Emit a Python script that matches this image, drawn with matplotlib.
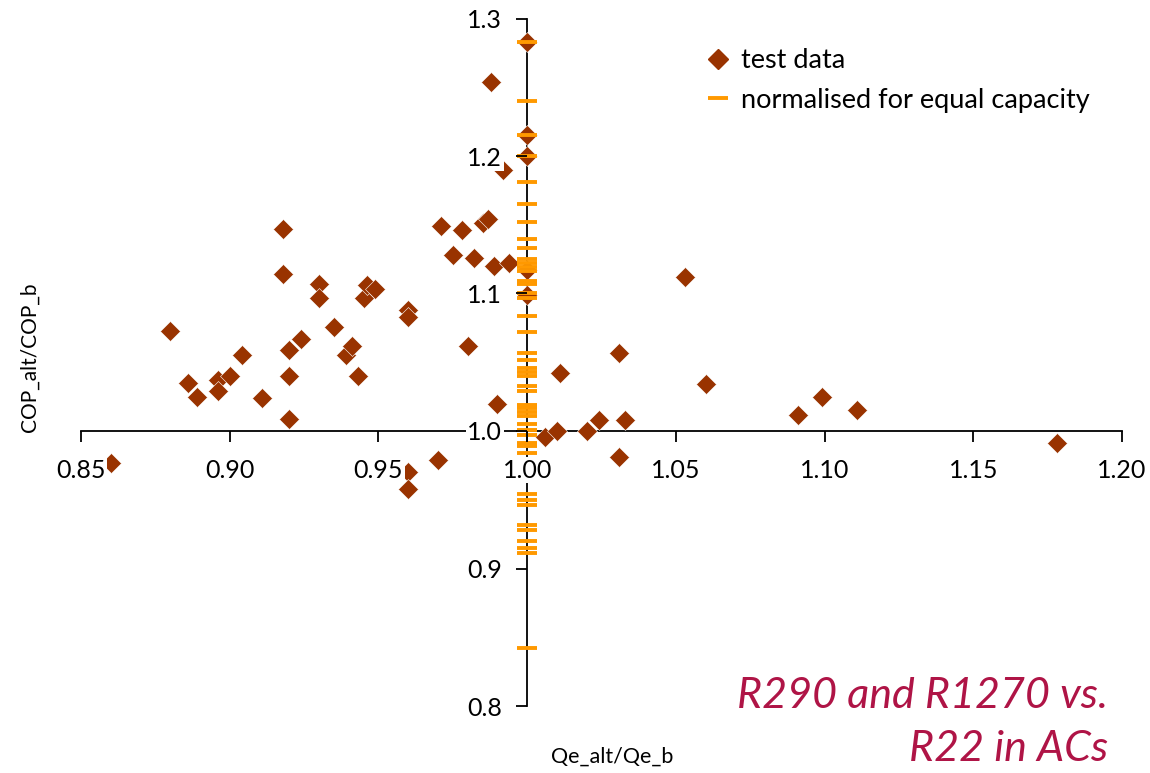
import matplotlib
matplotlib.use("Agg")
import matplotlib.pyplot as plt
from matplotlib.lines import Line2D

plt.rcParams['font.family'] = ['Lato', 'DejaVu Sans']

# test data (Qe_alt/Qe_b, COP_alt/COP_b)
qe_ratio = [0.860, 0.880, 0.886, 0.889, 0.896, 0.896, 0.900, 0.904, 0.911, 0.918,
            0.918, 0.920, 0.920, 0.920, 0.924, 0.930, 0.930, 0.935, 0.939, 0.941,
            0.943, 0.945, 0.946, 0.949, 0.960, 0.960, 0.960, 0.960, 0.970, 0.971,
            0.975, 0.978, 0.980, 0.982, 0.985, 0.987, 0.988, 0.989, 0.990, 0.992,
            0.994, 1.000, 1.000, 1.000, 1.000, 1.000, 1.006, 1.010, 1.011, 1.020,
            1.024, 1.031, 1.031, 1.033, 1.053, 1.060, 1.091, 1.099, 1.111, 1.178]
cop_ratio = [0.977, 1.073, 1.035, 1.025, 1.037, 1.029, 1.040, 1.055, 1.024, 1.114,
             1.147, 1.059, 1.040, 1.009, 1.067, 1.107, 1.097, 1.076, 1.055, 1.062,
             1.040, 1.097, 1.106, 1.103, 1.088, 1.083, 0.970, 0.958, 0.979, 1.149,
             1.128, 1.146, 1.062, 1.126, 1.151, 1.154, 1.254, 1.120, 1.020, 1.190,
             1.122, 1.283, 1.215, 1.200, 1.117, 1.099, 0.996, 1.000, 1.042, 1.000,
             1.008, 0.981, 1.057, 1.008, 1.112, 1.034, 1.012, 1.025, 1.015, 0.991]

# normalised for equal capacity (all at Qe ratio 1.0)
cop_norm = [1.283, 1.240, 1.215, 1.200, 1.181, 1.165, 1.152, 1.140, 1.133, 1.125,
            1.122, 1.119, 1.116, 1.109, 1.107, 1.100, 1.097, 1.084, 1.072, 1.057,
            1.052, 1.046, 1.043, 1.040, 1.033, 1.029, 1.019, 1.017, 1.014, 1.011,
            1.005, 1.001, 0.997, 0.991, 0.989, 0.984, 0.954, 0.950, 0.946, 0.932,
            0.928, 0.920, 0.915, 0.911, 0.842]
qe_norm = [1.0] * len(cop_norm)

xticks = [0.85, 0.90, 0.95, 1.00, 1.05, 1.10, 1.15, 1.20]
yticks = [0.8, 0.9, 1.0, 1.1, 1.2, 1.3]

brown = '#993300'
orange = '#FF9900'

fig = plt.figure(figsize=(11.5, 7.73), dpi=100)
ax = fig.add_axes([81 / 1150, 1 - 706 / 773, (1122 - 81) / 1150, (706 - 18.5) / 773])

ax.plot(qe_ratio, cop_ratio, linestyle='none', marker='D', markersize=10.5,
        color=brown, markeredgecolor='white', markeredgewidth=0.4, zorder=2)
ax.plot(qe_norm, cop_norm, linestyle='none', marker='_', markersize=15,
        markeredgewidth=2.8, color=orange, zorder=2.2)

ax.set_xlim(0.85, 1.20)
ax.set_ylim(0.8, 1.3)

# axes crossing at (1, 1)
ax.spines['left'].set_position(('data', 1.0))
ax.spines['bottom'].set_position(('data', 1.0))
ax.spines['right'].set_visible(False)
ax.spines['top'].set_visible(False)
for s in ['left', 'bottom']:
    ax.spines[s].set_linewidth(1.3)
    ax.spines[s].set_zorder(1)

ax.set_xticks(xticks)
ax.set_yticks(yticks)
ax.set_xticklabels([f"{v:.2f}" for v in xticks])
ax.set_yticklabels([f"{v:.1f}" for v in yticks])
ax.tick_params(axis='both', direction='out', length=8, width=1.3, labelsize=18)
ax.tick_params(axis='x', pad=12)
ax.tick_params(axis='y', pad=10)
ax.xaxis.set_zorder(3)
ax.yaxis.set_zorder(3)
for lbl in ax.get_xticklabels() + ax.get_yticklabels():
    lbl.set_bbox(dict(facecolor='white', edgecolor='none', pad=1))

fig.text(30 / 1150, 1 - 357 / 773, "COP_alt/COP_b", rotation=90, fontsize=15,
         ha='center', va='center')
fig.text(612 / 1150, 1 - 757 / 773, "Qe_alt/Qe_b", fontsize=15.5,
         ha='center', va='center')

fig.text(1108 / 1150, 1 - 768 / 773, "R290 and R1270 vs.\nR22 in ACs", fontsize=31,
         style='italic', color='#AF1446', ha='right', va='bottom',
         multialignment='right', linespacing=1.5)

handles = [Line2D([], [], linestyle='none', marker='D', markersize=10.5, color=brown),
           Line2D([], [], linestyle='none', marker='_', markersize=15,
                  markeredgewidth=2.8, color=orange)]
ax.legend(handles, ["test data", "normalised for equal capacity"], loc='upper left',
          bbox_to_anchor=(706 / 1150, 1 - 48 / 773), bbox_transform=fig.transFigure,
          frameon=False, fontsize=19.5, handlelength=0.9, handletextpad=0.4,
          labelspacing=0.55, borderpad=0, borderaxespad=0)

fig.savefig("out.png", dpi=100)
